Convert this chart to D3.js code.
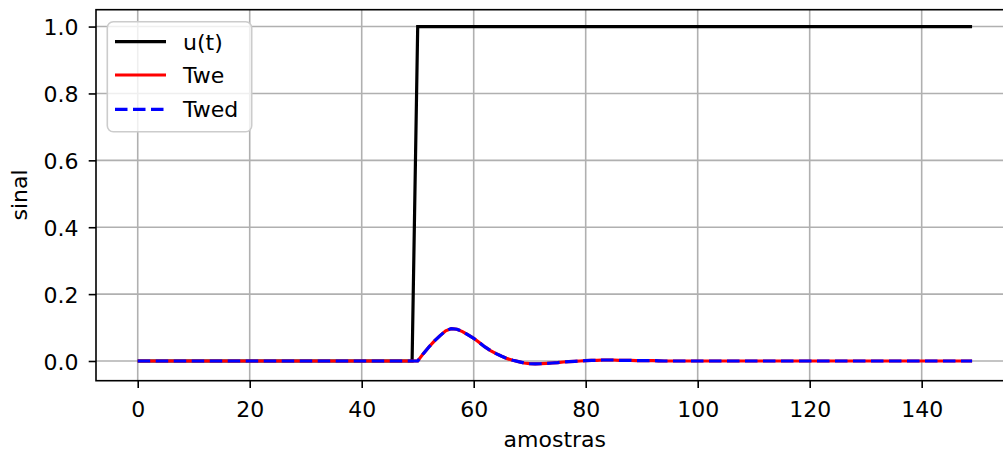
<!DOCTYPE html>
<html>
<head>
<meta charset="utf-8">
<script src="https://cdn.jsdelivr.net/npm/d3@7"></script>
<style>
html,body{margin:0;padding:0;background:#fff;}
svg{display:block;}
text{font-family:"DejaVu Sans",sans-serif;fill:#000;}
</style>
</head>
<body>
<svg id="chart" width="1003" height="455"></svg>
<script>
// ---- data ----
const samples = d3.range(150);
const uValues = [
0,0,0,0,0,0,0,0,0,0, 0,0,0,0,0,0,0,0,0,0,
0,0,0,0,0,0,0,0,0,0, 0,0,0,0,0,0,0,0,0,0,
0,0,0,0,0,0,0,0,0,0, 1,1,1,1,1,1,1,1,1,1,
1,1,1,1,1,1,1,1,1,1, 1,1,1,1,1,1,1,1,1,1,
1,1,1,1,1,1,1,1,1,1, 1,1,1,1,1,1,1,1,1,1,
1,1,1,1,1,1,1,1,1,1, 1,1,1,1,1,1,1,1,1,1,
1,1,1,1,1,1,1,1,1,1, 1,1,1,1,1,1,1,1,1,1,
1,1,1,1,1,1,1,1,1,1
];
const tweValues = [
0,0,0,0,0,0,0,0,0,0, 0,0,0,0,0,0,0,0,0,0,
0,0,0,0,0,0,0,0,0,0, 0,0,0,0,0,0,0,0,0,0,
0,0,0,0,0,0,0,0,0,0,
0, 0.022, 0.042, 0.060, 0.076, 0.090, 0.097, 0.095, 0.088, 0.078,
0.068, 0.055, 0.042, 0.031, 0.022, 0.014, 0.007, 0.002, -0.002, -0.006,
-0.008, -0.0085, -0.008, -0.007, -0.006, -0.005, -0.003, -0.002, -0.001, 0.000,
0.001, 0.002, 0.002, 0.003, 0.003, 0.003, 0.002, 0.002, 0.002, 0.001,
0.001, 0.001, 0.001, 0.0005, 0, 0, 0, 0, 0, 0,
0,0,0,0,0,0,0,0,0,0, 0,0,0,0,0,0,0,0,0,0,
0,0,0,0,0,0,0,0,0,0, 0,0,0,0,0,0,0,0,0,0,
0,0,0,0,0,0,0,0,0,0
];
const twedValues = [
0,0,0,0,0,0,0,0,0,0, 0,0,0,0,0,0,0,0,0,0,
0,0,0,0,0,0,0,0,0,0, 0,0,0,0,0,0,0,0,0,0,
0,0,0,0,0,0,0,0,0,0,
0, 0.022, 0.042, 0.060, 0.076, 0.090, 0.097, 0.095, 0.088, 0.078,
0.068, 0.055, 0.042, 0.031, 0.022, 0.014, 0.007, 0.002, -0.002, -0.006,
-0.008, -0.0085, -0.008, -0.007, -0.006, -0.005, -0.003, -0.002, -0.001, 0.000,
0.001, 0.002, 0.002, 0.003, 0.003, 0.003, 0.002, 0.002, 0.002, 0.001,
0.001, 0.001, 0.001, 0.0005, 0, 0, 0, 0, 0, 0,
0,0,0,0,0,0,0,0,0,0, 0,0,0,0,0,0,0,0,0,0,
0,0,0,0,0,0,0,0,0,0, 0,0,0,0,0,0,0,0,0,0,
0,0,0,0,0,0,0,0,0,0
];
const xTicks = [0, 20, 40, 60, 80, 100, 120, 140];
const yTicks = [0.0, 0.2, 0.4, 0.6, 0.8, 1.0];
const seriesNames = ["u(t)", "Twe", "Twed"];

// ---- layout ----
const L = 96, T = 9.7, B = 380.7, R = 1013.8;
const FS = 22;
const svg = d3.select("#chart");

const xMin = 0, xMax = 149, xPad = (xMax - xMin) * 0.05;
const allY = uValues.concat(tweValues, twedValues);
const yLo = d3.min(allY), yHi = d3.max(allY), yPad = (yHi - yLo) * 0.05;

const x = d3.scaleLinear().domain([xMin - xPad, xMax + xPad]).range([L, R]);
const y = d3.scaleLinear().domain([yLo - yPad, yHi + yPad]).range([B, T]);

svg.append("defs").append("clipPath").attr("id", "clip")
  .append("rect").attr("x", L).attr("y", T).attr("width", R - L).attr("height", B - T);

// grid
const grid = svg.append("g").attr("stroke", "#b0b0b0").attr("stroke-width", 1.6);
grid.selectAll(".gx").data(xTicks).join("line")
  .attr("x1", d => x(d)).attr("x2", d => x(d)).attr("y1", T).attr("y2", B);
grid.selectAll(".gy").data(yTicks).join("line")
  .attr("y1", d => y(d)).attr("y2", d => y(d)).attr("x1", L).attr("x2", R);

// lines
const plot = svg.append("g").attr("clip-path", "url(#clip)");
const mk = vals => d3.line().x((d, i) => x(samples[i])).y(d => y(d))(vals);
plot.append("path").attr("d", mk(uValues)).attr("fill", "none")
  .attr("stroke", "#000").attr("stroke-width", 3.2);
plot.append("path").attr("d", mk(tweValues)).attr("fill", "none")
  .attr("stroke", "#ff0000").attr("stroke-width", 3.2);
plot.append("path").attr("d", mk(twedValues)).attr("fill", "none")
  .attr("stroke", "#0000ff").attr("stroke-width", 3.2)
  .attr("stroke-dasharray", "12.5,5.5");

// axes
const xAxis = d3.axisBottom(x).tickValues(xTicks).tickFormat(d3.format("d"))
  .tickSize(7.3).tickSizeOuter(0);
const gx = svg.append("g").attr("transform", `translate(0,${B})`).call(xAxis);
const yAxis = d3.axisLeft(y).tickValues(yTicks).tickFormat(d3.format(".1f"))
  .tickSize(7.3).tickSizeOuter(0);
const gy = svg.append("g").attr("transform", `translate(${L},0)`).call(yAxis);
[gx, gy].forEach(g => {
  g.select(".domain").remove();
  g.selectAll(".tick line").attr("stroke", "#000").attr("stroke-width", 1.6);
  g.selectAll(".tick text").style("font-size", FS + "px")
    .style("font-family", '"DejaVu Sans", sans-serif');
});
gx.selectAll(".tick text").attr("dy", null).attr("y", 417.3 - B);
gy.selectAll(".tick text").attr("dy", null).attr("dy", "8.3px").attr("x", 78.5 - L);

// spines
svg.append("rect").attr("x", L).attr("y", T).attr("width", R - L).attr("height", B - T)
  .attr("fill", "none").attr("stroke", "#000").attr("stroke-width", 1.6);

// labels
svg.append("text").attr("x", 554.8).attr("y", 447).attr("text-anchor", "middle")
  .style("font-size", FS + "px").text("amostras");
svg.append("text").attr("transform", `translate(26.7,195) rotate(-90)`)
  .attr("text-anchor", "middle").style("font-size", FS + "px").text("sinal");

// legend
const lg = svg.append("g");
lg.append("rect").attr("x", 107.3).attr("y", 21.7).attr("width", 144.4).attr("height", 110)
  .attr("rx", 6).attr("fill", "#fff").attr("fill-opacity", 0.8)
  .attr("stroke", "#cccccc").attr("stroke-width", 1.6);
const legendStyles = [
  {stroke: "#000", dash: null},
  {stroke: "#ff0000", dash: null},
  {stroke: "#0000ff", dash: "12.5,5.5"}
];
const rowY = [41.7, 75, 109.3];
seriesNames.forEach((name, i) => {
  lg.append("line").attr("x1", 115).attr("x2", 166).attr("y1", rowY[i]).attr("y2", rowY[i])
    .attr("stroke", legendStyles[i].stroke).attr("stroke-width", 3.2)
    .attr("stroke-dasharray", legendStyles[i].dash);
  lg.append("text").attr("x", 183).attr("y", rowY[i]).attr("dy", "0.36em")
    .style("font-size", FS + "px").text(name);
});
</script>
</body>
</html>
